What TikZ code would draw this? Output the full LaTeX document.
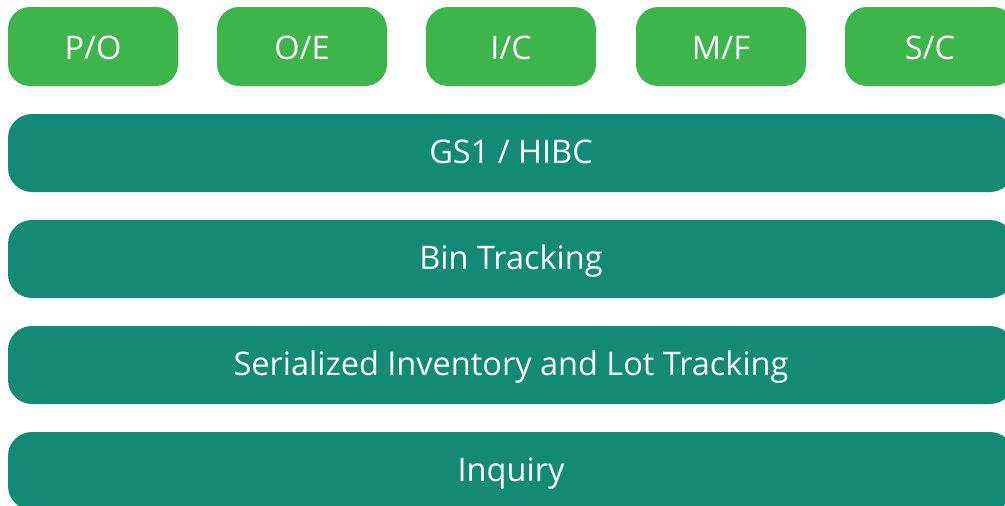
\documentclass[tikz,border=0pt]{standalone}
\usepackage{fontspec}
\setmainfont{Open Sans}
\definecolor{modgreen}{HTML}{3DB54A}
\definecolor{layerteal}{HTML}{138A76}
\tikzset{
    module/.style={fill=modgreen, text=white, rounded corners=22pt,
        minimum width=170pt, minimum height=79pt, inner sep=0pt,
        text height=26pt, text depth=0pt,
        font=\fontsize{32.5}{38}\selectfont},
    layer/.style={fill=layerteal, text=white, rounded corners=24pt,
        minimum width=1006pt, minimum height=78pt, inner sep=0pt,
        text height=20pt, text depth=0pt,
        font=\fontsize{32.5}{38}\selectfont}
}
\begin{document}
\begin{tikzpicture}[x=1pt,y=1pt]
    \useasboundingbox (0,0) rectangle (1005,-506);
    % modules on top
    \foreach \x/\name/\lbl in {93/po/{P/O}, 302/oe/{O/E}, 511/ic/{I/C}, 721/mf/{M/F}, 930/sc/{S/C}} {
        \node[module] (\name) at (\x,-46.5) {\lbl};
    }
    % layers
    \node[layer] (gs)      at (511,-153) {GS1 / HIBC};
    \node[layer] (bin)     at (511,-259) {Bin Tracking};
    \node[layer] (serial)  at (511,-365) {Serialized Inventory and Lot Tracking};
    \node[layer] (inquiry) at (511,-471) {Inquiry};
\end{tikzpicture}
\end{document}
